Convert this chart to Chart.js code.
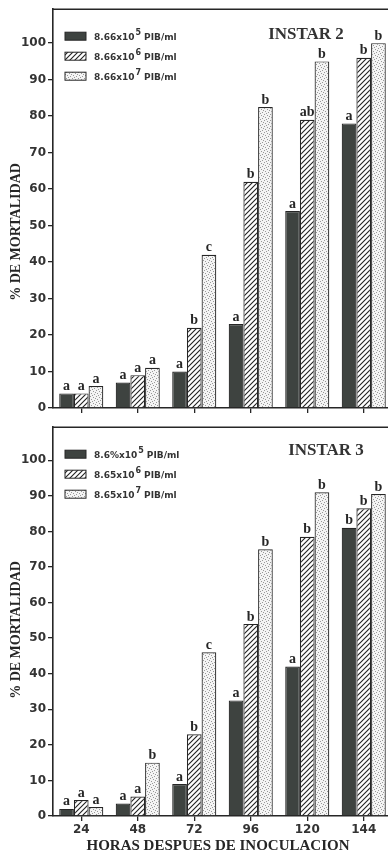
<!DOCTYPE html>
<html lang="es">
<head>
<meta charset="UTF-8" />
<title>Mortalidad por instar</title>
<script src="https://cdn.jsdelivr.net/npm/chart.js"></script>
<style>
    html, body { margin: 0; padding: 0; background: #fff; overflow: hidden; width: 388px; height: 854px; }
    .panel { position: relative; width: 392px; }
    canvas { display: block; }
</style>
</head>
<body>
<div class="panel"><canvas id="instar2" width="392" height="418"></canvas></div>
<div class="panel"><canvas id="instar3" width="392" height="436"></canvas></div>

<script>
    const hours = ["24", "48", "72", "96", "120", "144"];

    // INSTAR 2
    const instar2Low = [4, 7, 10, 23, 54, 78];
    const instar2Mid = [4, 9, 22, 62, 79, 96];
    const instar2High = [6, 11, 42, 82.5, 95, 100];
    const instar2LetLow = ["a", "a", "a", "a", "a", "a"];
    const instar2LetMid = ["a", "a", "b", "b", "ab", "b"];
    const instar2LetHigh = ["a", "a", "c", "b", "b", "b"];

    // INSTAR 3
    const instar3Low = [2, 3.5, 9, 32.5, 42, 81];
    const instar3Mid = [4.5, 5.5, 23, 54, 78.5, 86.5];
    const instar3High = [2.5, 15, 46, 75, 91, 90.5];
    const instar3LetLow = ["a", "a", "a", "a", "a", "b"];
    const instar3LetMid = ["a", "a", "b", "b", "b", "b"];
    const instar3LetHigh = ["a", "b", "c", "b", "b", "b"];

    const doseExp = ["5", "6", "7"];
    const legend2 = ["8.66x10", "8.66x10", "8.66x10"];
    const legend3 = ["8.6%x10", "8.65x10", "8.65x10"];

    const ink = "#262626";
    const dark = "#3e4340";

    function hatch() {
        const c = document.createElement("canvas");
        c.width = 5; c.height = 5;
        const g = c.getContext("2d");
        g.fillStyle = "#fff";
        g.fillRect(0, 0, 5, 5);
        g.strokeStyle = "#222";
        g.lineWidth = 1.1;
        g.beginPath();
        g.moveTo(-1, 6); g.lineTo(6, -1);
        g.moveTo(-1, 1); g.lineTo(1, -1);
        g.moveTo(4, 6); g.lineTo(6, 4);
        g.stroke();
        return g.createPattern(c, "repeat");
    }

    function stipple() {
        const c = document.createElement("canvas");
        c.width = 6; c.height = 6;
        const g = c.getContext("2d");
        g.fillStyle = "#f4f4f4";
        g.fillRect(0, 0, 6, 6);
        g.fillStyle = "#999";
        [[0, 0], [3, 1], [1, 3], [4, 4], [5, 2], [2, 5]].forEach(([x, y]) => g.fillRect(x, y, 1, 1));
        return g.createPattern(c, "repeat");
    }

    const fills = [dark, hatch(), stipple()];

    function drawDose(ctx, x, y, base, exp) {
        ctx.textAlign = "left";
        ctx.textBaseline = "alphabetic";
        ctx.font = "bold 9px 'DejaVu Sans'";
        ctx.fillText(base, x, y);
        let w = ctx.measureText(base).width;
        ctx.font = "bold 8px 'DejaVu Sans'";
        ctx.fillText(exp, x + w + 1, y - 5);
        w += ctx.measureText(exp).width + 4;
        ctx.font = "bold 9px 'DejaVu Sans'";
        ctx.fillText("PIB/ml", x + w, y);
    }

    const extras = {
        id: "extras",
        afterDraw(chart, args, opts) {
            const ctx = chart.ctx;
            const a = chart.chartArea;
            ctx.save();

            // frame
            ctx.strokeStyle = ink;
            ctx.lineWidth = 1.5;
            ctx.beginPath();
            ctx.moveTo(a.left, a.top);
            ctx.lineTo(a.right, a.top);
            ctx.lineTo(a.right, a.bottom);
            ctx.stroke();

            // significance letters
            ctx.fillStyle = ink;
            ctx.font = "bold 14px 'Liberation Serif'";
            ctx.textAlign = "center";
            ctx.textBaseline = "bottom";
            chart.data.datasets.forEach((ds, i) => {
                chart.getDatasetMeta(i).data.forEach((bar, j) => {
                    ctx.fillText(ds.letters[j], bar.x, bar.y);
                });
            });

            // panel title
            ctx.font = "bold 17px 'Liberation Serif'";
            ctx.fillStyle = "#333";
            ctx.textBaseline = "alphabetic";
            ctx.fillText(opts.title, opts.titleX, a.top + opts.titleDy);

            // legend
            chart.data.datasets.forEach((ds, i) => {
                const y = a.top + 23 + i * 20;
                ctx.fillStyle = fills[i];
                ctx.fillRect(a.left + 12, y, 21, 8);
                ctx.strokeStyle = ink;
                ctx.lineWidth = 1;
                ctx.strokeRect(a.left + 12, y, 21, 8);
                ctx.fillStyle = "#333";
                drawDose(ctx, a.left + 41, y + 8, opts.legend[i], doseExp[i]);
            });

            // y title
            ctx.save();
            ctx.translate(16, opts.yTitleY);
            ctx.rotate(-Math.PI / 2);
            ctx.font = "bold 14px 'Liberation Serif'";
            ctx.fillStyle = ink;
            ctx.textAlign = "center";
            ctx.textBaseline = "middle";
            ctx.fillText("% DE MORTALIDAD", 0, 0);
            ctx.restore();

            // x title
            if (opts.xTitle) {
                ctx.font = "bold 15px 'Liberation Serif'";
                ctx.fillStyle = ink;
                ctx.textAlign = "center";
                ctx.textBaseline = "alphabetic";
                ctx.fillText(opts.xTitle, 218, chart.height - 4);
            }
            ctx.restore();
        }
    };

    function makeChart(id, low, mid, high, letters, opts) {
        const series = [low, mid, high];
        return new Chart(document.getElementById(id), {
            type: "bar",
            data: {
                labels: hours,
                datasets: series.map((d, i) => ({
                    data: d,
                    letters: letters[i],
                    backgroundColor: fills[i],
                    borderColor: ink,
                    borderWidth: 1.2,
                    categoryPercentage: 0.78,
                    barPercentage: 1.0
                }))
            },
            options: {
                responsive: false,
                animation: false,
                layout: { padding: { top: opts.padTop, left: 0, right: 0, bottom: 0 } },
                plugins: {
                    legend: { display: false },
                    tooltip: { enabled: false },
                    extras: opts
                },
                scales: {
                    x: {
                        grid: { drawOnChartArea: false, offset: false, tickLength: 5, color: ink, lineWidth: 1.3 },
                        border: { color: ink, width: 1.6 },
                        ticks: {
                            display: opts.showX,
                            color: "#333",
                            padding: 2,
                            font: { family: "DejaVu Sans", weight: "bold", size: 12 }
                        },
                        afterFit: (s) => { s.height = opts.xHeight; }
                    },
                    y: {
                        min: 0,
                        max: 109.3,
                        grid: { drawOnChartArea: false, tickLength: 5, color: ink, lineWidth: 1.3 },
                        border: { color: ink, width: 1.6 },
                        ticks: {
                            stepSize: 10,
                            includeBounds: false,
                            color: "#333",
                            padding: 2,
                            font: { family: "DejaVu Sans", weight: "bold", size: 12 }
                        },
                        afterFit: (s) => { s.width = 53; }
                    }
                }
            },
            plugins: [extras]
        });
    }

    makeChart("instar2", instar2Low, instar2Mid, instar2High,
        [instar2LetLow, instar2LetMid, instar2LetHigh],
        { title: "INSTAR 2", titleX: 306, titleDy: 30, legend: legend2, yTitleY: 232,
          padTop: 8, xHeight: 10, showX: false, xTitle: "" });

    makeChart("instar3", instar3Low, instar3Mid, instar3High,
        [instar3LetLow, instar3LetMid, instar3LetHigh],
        { title: "INSTAR 3", titleX: 326, titleDy: 28, legend: legend3, yTitleY: 212,
          padTop: 1, xHeight: 38, showX: true, xTitle: "HORAS DESPUES DE INOCULACION" });
</script>
</body>
</html>
